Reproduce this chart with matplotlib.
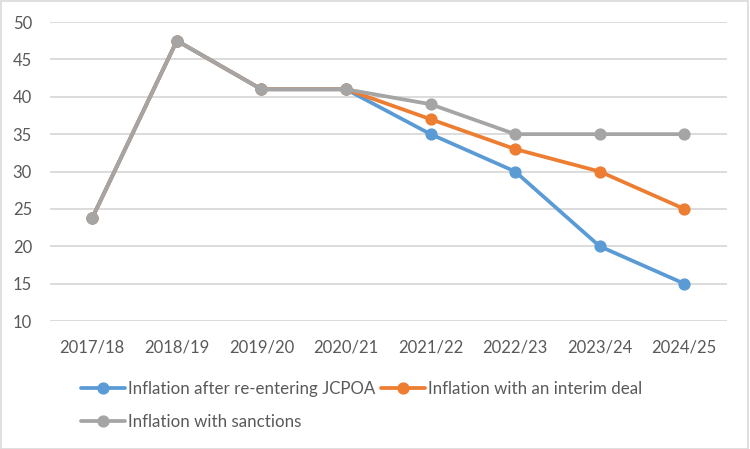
import matplotlib.pyplot as plt
from matplotlib.patches import Rectangle

# data
years = ['2017/18', '2018/19', '2019/20', '2020/21', '2021/22', '2022/23', '2023/24', '2024/25']
jcpoa = [23.8, 47.5, 41, 41, 35, 30, 20, 15]
interim = [23.8, 47.5, 41, 41, 37, 33, 30, 25]
sanctions = [23.8, 47.5, 41, 41, 39, 35, 35, 35]

plt.rcParams['font.family'] = ['Lato', 'DejaVu Sans']
TEXT = '#595959'
GRID = '#D9D9D9'

fig = plt.figure(figsize=(7.5, 4.49), dpi=100)
ax = fig.add_axes([0.0667, 0.285, 0.902, 0.666])

x = list(range(len(years)))
series = [
    ('Inflation after re-entering JCPOA', jcpoa, '#5B9BD5'),
    ('Inflation with an interim deal', interim, '#ED7D31'),
    ('Inflation with sanctions', sanctions, '#A5A5A5'),
]
handles = []
for i, (name, vals, col) in enumerate(series):
    h, = ax.plot(x, vals, color=col, lw=2.7, marker='o', ms=7.8, label=name,
                 zorder=3 + i, solid_capstyle='round')
    handles.append(h)

ax.set_xlim(-0.5, len(years) - 0.5)
ax.set_ylim(10, 50)
ax.set_yticks(range(10, 51, 5))
ax.set_xticks(x)
ax.set_xticklabels(years)
ax.grid(axis='y', color=GRID, lw=1.3)
ax.set_axisbelow(True)
for s in ax.spines.values():
    s.set_visible(False)
ax.tick_params(length=0, colors=TEXT, labelsize=12)
ax.tick_params(axis='x', pad=13)
ax.tick_params(axis='y', pad=13)

# legend laid out row by row: blue, orange / gray
order = [0, 2, 1]
fig.legend([handles[i] for i in order], [series[i][0] for i in order],
           ncol=2, loc='upper left', bbox_to_anchor=(0.108, 0.151),
           frameon=False, fontsize=12.2, handlelength=2.6, handletextpad=0.2,
           columnspacing=0.3, labelspacing=1.0, borderaxespad=0, borderpad=0,
           labelcolor=TEXT)

# chart-area border
fig.patches.append(Rectangle((0.001, 0.0), 0.996, 0.998, transform=fig.transFigure,
                             fill=False, edgecolor=GRID, lw=1.2))

fig.savefig('out.png', dpi=100)
